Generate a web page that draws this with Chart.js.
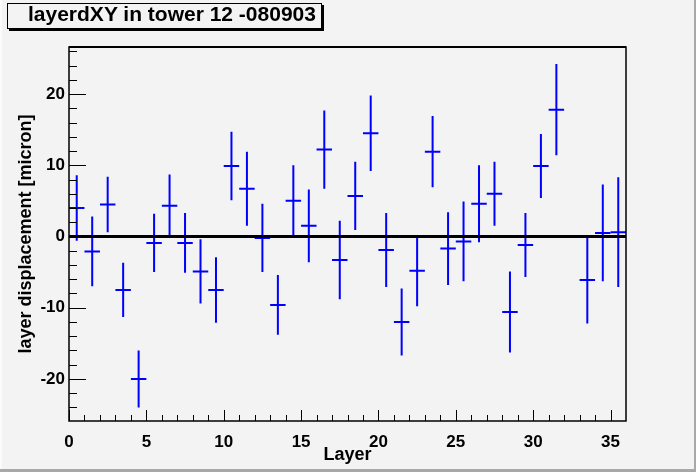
<!DOCTYPE html>
<html>
<head>
<meta charset="utf-8">
<script src="https://cdn.jsdelivr.net/npm/chart.js@4.4.0/dist/chart.umd.min.js"></script>
<style>
  html, body { margin: 0; padding: 0; background: #f3f3f3; }
  #wrap { position: relative; width: 696px; height: 472px; }
  #title {
    position: absolute; left: 7px; top: 3px; width: 293px; height: 24px;
    border: 1px solid #000; box-shadow: 2px 2px 0 #000; background: #f3f3f3;
    font: bold 21px "Liberation Sans", Arial, sans-serif; line-height: 19px;
    color: #000; padding-left: 20px; white-space: nowrap; overflow: hidden;
  }
</style>
</head>
<body>
<div id="wrap">
  <canvas id="chart" width="696" height="472"></canvas>
  <div id="title">layerdXY in tower 12 -080903</div>
</div>
<script>
// layer index, mean displacement and its error (micron); layer 32 has no entry
const layers = [0, 1, 2, 3, 4, 5, 6, 7, 8, 9, 10, 11, 12, 13, 14, 15, 16, 17,
  18, 19, 20, 21, 22, 23, 24, 25, 26, 27, 28, 29, 30, 31, 32, 33, 34, 35];
const displacement = [4.0, -2.1, 4.5, -7.5, -20.0, -0.9, 4.3, -0.9, -4.9, -7.5, 9.9, 6.7,
  -0.2, -9.6, 5.0, 1.5, 12.2, -3.3, 5.7, 14.5, -1.9, -12.0, -4.8, 11.9,
  -1.7, -0.7, 4.6, 6.0, -10.6, -1.2, 9.9, 17.8, null, -6.1, 0.5, 0.6];
const errors = [4.6, 4.9, 3.9, 3.8, 4.0, 4.1, 4.4, 4.2, 4.5, 4.6, 4.8, 5.2,
  4.8, 4.2, 5.0, 5.1, 5.5, 5.5, 4.8, 5.3, 5.2, 4.7, 5.0, 5.0,
  5.1, 5.6, 5.4, 4.5, 5.7, 4.5, 4.5, 6.4, null, 6.1, 6.8, 7.7];

const xTicks = [0, 5, 10, 15, 20, 25, 30, 35];
const yTicks = [-20, -10, 0, 10, 20];

const blue = '#0000ff';
const family = '"Liberation Sans", Arial, sans-serif';
const tickFont = { family, weight: 'bold', size: 17 };
const titleFont = { family, weight: 'bold', size: 18 };

const points = [];
layers.forEach((layer, i) => {
  if (displacement[i] !== null) {
    points.push({ x: layer + 0.5, y: displacement[i], err: errors[i] });
  }
});

const rootStyle = {
  id: 'rootStyle',
  beforeDraw(chart) {
    const ctx = chart.ctx;
    ctx.save();
    ctx.fillStyle = '#f3f3f3';
    ctx.fillRect(0, 0, chart.width, chart.height);
    ctx.fillStyle = '#fbfbfb';
    ctx.fillRect(0, 0, 2, chart.height);
    ctx.fillStyle = '#a8a8a8';
    ctx.fillRect(chart.width - 2, 0, 2, chart.height);
    ctx.fillRect(0, chart.height - 3, chart.width, 3);
    ctx.restore();
  },
  afterDatasetsDraw(chart) {
    const ctx = chart.ctx;
    const xs = chart.scales.x;
    const ys = chart.scales.y;
    const area = chart.chartArea;

    // error bars: horizontal = bin width, vertical = +-error
    ctx.save();
    ctx.strokeStyle = blue;
    ctx.lineWidth = 2;
    points.forEach((p) => {
      const cx = xs.getPixelForValue(p.x);
      const cy = ys.getPixelForValue(p.y);
      ctx.beginPath();
      ctx.moveTo(xs.getPixelForValue(p.x - 0.5), cy);
      ctx.lineTo(xs.getPixelForValue(p.x + 0.5), cy);
      ctx.moveTo(cx, ys.getPixelForValue(p.y + p.err));
      ctx.lineTo(cx, ys.getPixelForValue(p.y - p.err));
      ctx.stroke();
    });

    // zero line
    ctx.strokeStyle = '#000';
    ctx.lineWidth = 3;
    const y0 = ys.getPixelForValue(0);
    ctx.beginPath();
    ctx.moveTo(area.left, y0);
    ctx.lineTo(area.right, y0);
    ctx.stroke();

    // frame
    ctx.lineWidth = 1.5;
    ctx.strokeRect(area.left, area.top, area.right - area.left, area.bottom - area.top);
    ctx.lineWidth = 2;
    ctx.beginPath();
    ctx.moveTo(area.left, area.top);
    ctx.lineTo(area.right, area.top);
    ctx.stroke();

    // inward ticks
    ctx.lineWidth = 1;
    ctx.beginPath();
    for (let v = 0; v < 36; v++) {
      const px = Math.round(xs.getPixelForValue(v)) + 0.5;
      const len = v % 5 === 0 ? 11 : 6;
      ctx.moveTo(px, area.bottom);
      ctx.lineTo(px, area.bottom - len);
    }
    for (let v = -24; v <= 26; v += 2) {
      const py = Math.round(ys.getPixelForValue(v)) + 0.5;
      const len = v % 10 === 0 ? 17 : 8;
      ctx.moveTo(area.left, py);
      ctx.lineTo(area.left + len, py);
    }
    ctx.stroke();
    ctx.restore();
  },
};

new Chart(document.getElementById('chart'), {
  type: 'scatter',
  data: {
    datasets: [{
      data: points,
      pointRadius: 0,
      pointHoverRadius: 0,
      showLine: false,
    }],
  },
  options: {
    responsive: false,
    animation: false,
    devicePixelRatio: 1,
    layout: { padding: { left: 0, top: 47, right: 70, bottom: 0 } },
    plugins: { legend: { display: false }, tooltip: { enabled: false } },
    scales: {
      x: {
        type: 'linear',
        min: 0,
        max: 36,
        grid: { display: false, drawTicks: false },
        border: { display: false },
        afterFit: (scale) => { scale.height = 51; },
        afterBuildTicks: (scale) => { scale.ticks = xTicks.map((v) => ({ value: v })); },
        ticks: { color: '#000', font: tickFont, padding: 11, maxRotation: 0, autoSkip: false },
        title: {
          display: true,
          text: 'Layer',
          color: '#000',
          font: titleFont,
          padding: { top: 0, bottom: 6 },
        },
      },
      y: {
        type: 'linear',
        min: -25.9,
        max: 26.6,
        grid: { display: false, drawTicks: false },
        border: { display: false },
        afterFit: (scale) => { scale.width = 69; },
        afterBuildTicks: (scale) => { scale.ticks = yTicks.map((v) => ({ value: v })); },
        ticks: { color: '#000', font: tickFont, padding: 4, autoSkip: false },
        title: {
          display: true,
          text: 'layer displacement [micron]',
          color: '#000',
          font: titleFont,
          padding: { top: 15, bottom: 0 },
        },
      },
    },
  },
  plugins: [rootStyle],
});
</script>
</body>
</html>
